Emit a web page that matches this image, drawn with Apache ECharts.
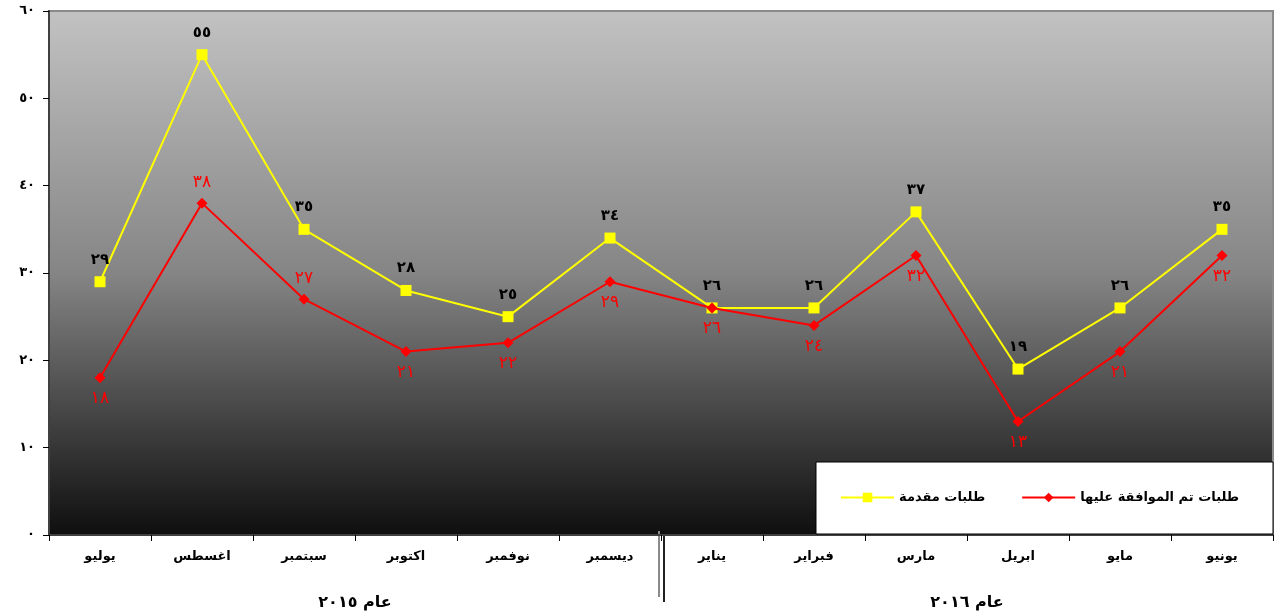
<!DOCTYPE html>
<html>
<head>
<meta charset="utf-8">
<script src="https://cdn.jsdelivr.net/npm/echarts@6/dist/echarts.min.js"></script>
<style>
  html, body { margin: 0; padding: 0; background: #fff; }
  #chart { width: 1280px; height: 616px; }
</style>
</head>
<body>
<div id="chart"></div>
<script>
const months = ["يوليو", "اغسطس", "سبتمبر", "اكتوبر", "نوفمبر", "ديسمبر",
  "يناير", "فبراير", "مارس", "ابريل", "مايو", "يونيو"];
const years = ["عام ٢٠١٥", "عام ٢٠١٦"];
const submitted = [29, 55, 35, 28, 25, 34, 26, 26, 37, 19, 26, 35];
const approved = [18, 38, 27, 21, 22, 29, 26, 24, 32, 13, 21, 32];
const seriesNames = ["طلبات مقدمة", "طلبات تم الموافقة عليها"];

const FONT = "DejaVu Sans";
const AR_DIGITS = "٠١٢٣٤٥٦٧٨٩";
const toArabic = (n) => String(n).replace(/[0-9]/g, (d) => AR_DIGITS[d]);

const chart = echarts.init(document.getElementById("chart"));

chart.setOption({
  animation: false,
  textStyle: { fontFamily: FONT },
  grid: {
    left: 49, right: 7, top: 11, bottom: 81,
    show: true,
    borderColor: "#8a8a8a",
    borderWidth: 2,
    backgroundColor: new echarts.graphic.LinearGradient(0, 0, 0, 1, [
      { offset: 0, color: "#c2c2c2" },
      { offset: 0.5, color: "#858585" },
      { offset: 1, color: "#0e0e0e" },
    ]),
  },
  legend: {
    data: seriesNames,
    orient: "horizontal",
    right: 7,
    top: 462,
    padding: [29, 34, 30, 24],
    itemGap: 36,
    itemWidth: 53,
    itemHeight: 12,
    backgroundColor: "#fff",
    borderColor: "#000",
    borderWidth: 1,
    borderRadius: 0,
    textStyle: { fontFamily: FONT, fontWeight: "bold", fontSize: 13, color: "#000" },
  },
  xAxis: [
    {
      type: "category",
      data: months,
      boundaryGap: true,
      axisLine: { lineStyle: { color: "#404040", width: 2 } },
      axisTick: { show: true, inside: false, length: 6, lineStyle: { color: "#000" } },
      axisLabel: { interval: 0, margin: 15, fontFamily: FONT, fontWeight: "bold", fontSize: 13, color: "#000" },
    },
    {
      type: "category",
      data: years,
      position: "bottom",
      offset: 52,
      gridIndex: 0,
      axisLine: { show: false },
      axisTick: { show: false },
      axisLabel: { interval: 0, fontFamily: FONT, fontWeight: "bold", fontSize: 16, color: "#000" },
    },
  ],
  yAxis: {
    type: "value",
    min: 0,
    max: 60,
    interval: 10,
    splitLine: { show: false },
    axisLine: { show: true, lineStyle: { color: "#404040", width: 2 } },
    axisTick: { show: true, length: 6, lineStyle: { color: "#000" } },
    axisLabel: {
      margin: 14,
      fontFamily: FONT,
      fontWeight: "bold",
      fontSize: 13,
      color: "#000",
      formatter: (v) => toArabic(v),
    },
  },
  series: [
    {
      name: seriesNames[0],
      type: "line",
      data: submitted,
      symbol: "rect",
      symbolSize: 11,
      itemStyle: { color: "#ffff00" },
      lineStyle: { color: "#ffff00", width: 2 },
      label: {
        show: true,
        position: "top",
        distance: 9,
        fontFamily: FONT,
        fontWeight: "bold",
        fontSize: 15,
        color: "#000",
        formatter: (p) => toArabic(p.value),
      },
      z: 2,
    },
    {
      name: seriesNames[1],
      type: "line",
      data: approved.map((v, i) => ({
        value: v,
        label: { position: i === 1 || i === 2 ? "top" : "bottom" },
      })),
      symbol: "diamond",
      symbolSize: 11,
      itemStyle: { color: "#ff0000" },
      lineStyle: { color: "#ff0000", width: 2 },
      label: {
        show: true,
        distance: 7,
        fontFamily: FONT,
        fontSize: 17,
        color: "#ff0000",
        formatter: (p) => toArabic(p.value),
      },
      z: 3,
    },
  ],
});

// divider between the two years, placed from the axis scale
const x5 = chart.convertToPixel({ xAxisIndex: 0 }, months[5]);
const x6 = chart.convertToPixel({ xAxisIndex: 0 }, months[6]);
const yBase = chart.convertToPixel({ yAxisIndex: 0 }, 0);
const xMid = (x5 + x6) / 2;
chart.setOption({
  graphic: [
    {
      type: "line",
      shape: { x1: xMid - 2, y1: yBase - 4, x2: xMid - 2, y2: yBase + 62 },
      style: { stroke: "#8a8a8a", lineWidth: 2 },
    },
    {
      type: "line",
      shape: { x1: xMid + 3, y1: yBase, x2: xMid + 3, y2: yBase + 67 },
      style: { stroke: "#222", lineWidth: 2 },
    },
  ],
});
</script>
</body>
</html>
